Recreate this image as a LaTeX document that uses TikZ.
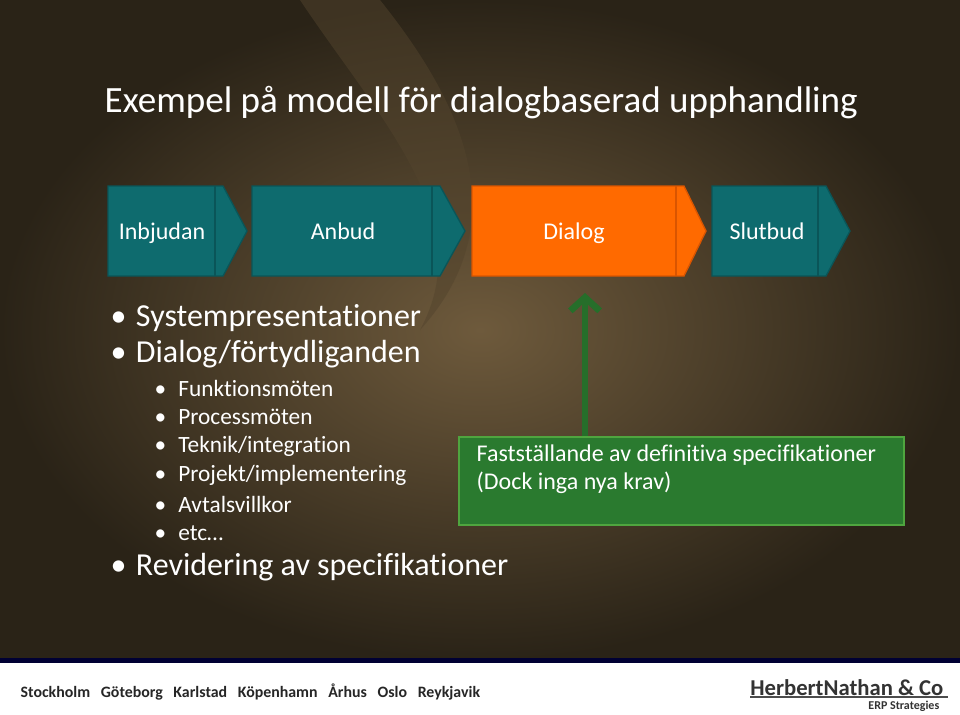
\documentclass[tikz,border=0pt]{standalone}
\usepackage{fontspec}
\setmainfont{Carlito}[Ligatures={NoCommon}]
\usetikzlibrary{arrows.meta}
\definecolor{teal1}{HTML}{0E6B6E}
\definecolor{teal2}{HTML}{0A5558}
\definecolor{orng}{HTML}{FF6A00}
\definecolor{orng2}{HTML}{D95500}
\definecolor{grn}{HTML}{2A7A2F}
\definecolor{grnb}{HTML}{4FA53F}
\definecolor{bgA}{HTML}{2A2317}
\definecolor{bgB}{HTML}{6E5A3C}
\tikzset{
 stepbox/.style={line width=1pt},
 lbl/.style={text=white,anchor=base,font=\fontsize{18}{20}\selectfont},
 big/.style={text=white,anchor=west,font=\fontsize{24}{27}\selectfont},
 small/.style={text=white,anchor=west,font=\fontsize{17.5}{20}\selectfont},
 city/.style={anchor=west,font=\bfseries\fontsize{11.9}{14}\selectfont,text=black!85}
}
\newcommand{\chev}[5]{% x0, xs, xe, fill, dark
 \fill[#4,draw=#5,stepbox] (#1,186)--(#2+8,186)--(#3,231)--(#2+8,276)--(#1,276)--cycle;
 \draw[#5,line width=1.5pt] (#2,186)--(#2,276);
}
\begin{document}
\begin{tikzpicture}[x=0.75pt,y=-0.75pt]
\useasboundingbox (0,0) rectangle (960,714);
\shade[inner color=bgB,outer color=bgA] (0,0) rectangle (960,660);
\fill[bgB!60!bgA,opacity=0.5] (300,0) .. controls (380,120) and (480,220) .. (420,330) .. controls (520,220) and (460,100) .. (380,0) -- cycle;
\fill[white] (0,662) rectangle (960,714);
\fill[black!80!blue] (0,658) rectangle (960,663);
\node[text=white,anchor=west,font=\fontsize{27.8}{31}\selectfont] (title) at (100,103) {Exempel på modell för dialogbaserad upphandling};
\chev{108}{215}{247}{teal1}{teal2}
\chev{252}{432}{465}{teal1}{teal2}
\chev{472}{676}{706}{orng}{orng2}
\chev{712}{818}{850}{teal1}{teal2}
\node[lbl] (s1) at (162,239) {Inbjudan};
\node[lbl] (s2) at (343,239) {Anbud};
\node[lbl] (s3) at (574,239) {Dialog};
\node[lbl] (s4) at (767,239) {Slutbud};
\node[big] (b1) at (106,318) {•\hspace{7pt}Systempresentationer};
\node[big] (b2) at (106,354) {•\hspace{7pt}Dialog/förtydliganden};
\foreach \t [count=\i] in {Funktionsmöten,Processmöten,Teknik/integration,Projekt/implementering,Avtalsvillkor,etc…}
 \node[small] (c\i) at (150,359+29*\i) {•\hspace{9pt}\t};
\node[big] (b3) at (106,567) {•\hspace{7pt}Revidering av specifikationer};
\node[fill=grn,draw=grnb,line width=1.2pt,minimum width=445*0.75pt,minimum height=88*0.75pt,anchor=north west] (box) at (458,436) {};
\node[small,anchor=north west,align=left,font=\fontsize{18}{21}\selectfont] (bt) at (472,440) {Fastställande av definitiva specifikationer\\(Dock inga nya krav)};
\coordinate (tip) at (585,293);
\draw[grn!90!black,line width=5pt,-{Straight Barb[width=22pt,length=10pt,line width=5pt]}] (box.north -| tip) -- (tip);
\node[city] (cities) at (16,692) {Stockholm\hspace{8pt}Göteborg\hspace{8pt}Karlstad\hspace{8pt}Köpenhamn\hspace{8pt}Århus\hspace{8pt}Oslo\hspace{8pt}Reykjavik};
\node[anchor=east,font=\bfseries\itshape\scshape\fontsize{17}{19}\selectfont,text=black!80] (logo) at (948,688) {HerbertNathan \& Co};
\draw[black!70,line width=0.8pt] (750,697) -- (948,697);
\node[anchor=east,font=\bfseries\itshape\scshape\fontsize{9}{10}\selectfont,text=black!80] (erp) at (944,706) {ERP Strategies};
\end{tikzpicture}
\end{document}
